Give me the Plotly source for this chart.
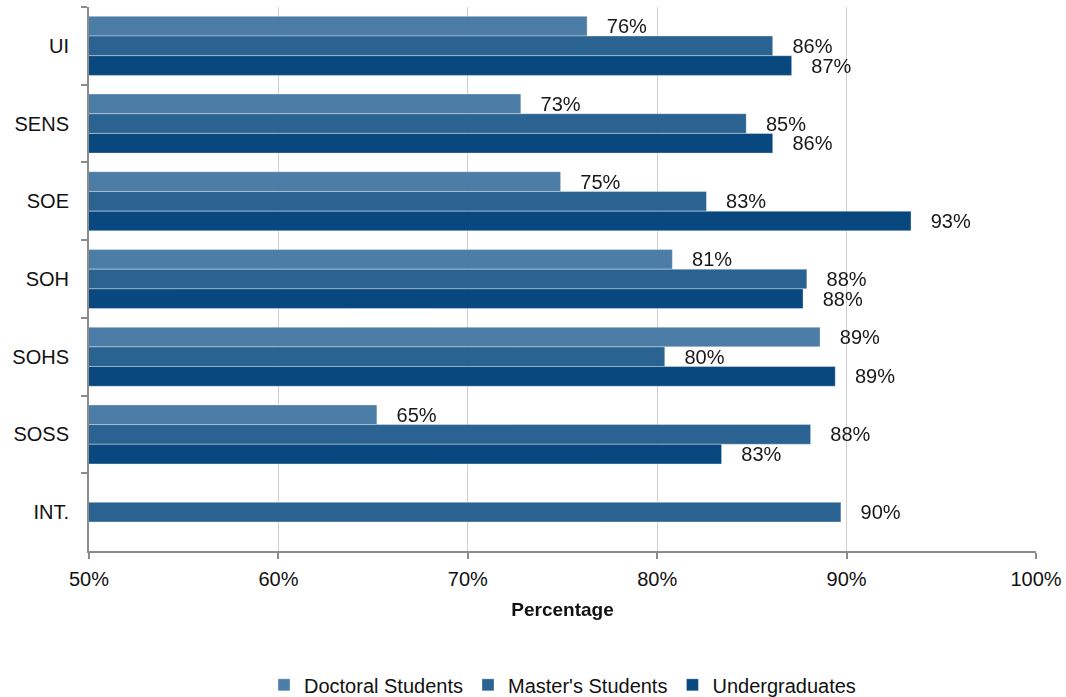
import plotly.graph_objects as go

categories = ["UI", "SENS", "SOE", "SOH", "SOHS", "SOSS", "INT."]
doctoral = [76.3, 72.8, 74.9, 80.8, 88.6, 65.2, None]
masters = [86.1, 84.7, 82.6, 87.9, 80.4, 88.1, 89.7]
undergrad = [87.1, 86.1, 93.4, 87.7, 89.4, 83.4, None]

series = [
    ("Doctoral Students", doctoral, "#4779a5"),
    ("Master's Students", masters, "#245e8e"),
    ("Undergraduates", undergrad, "#00437a"),
]

FONT = "Liberation Sans, Arial, sans-serif"

fig = go.Figure()
for name, vals, color in series:
    texts = ["\u00a0\u00a0\u00a0" + f"{round(v)}%" if v is not None else "" for v in vals]
    fig.add_trace(go.Bar(
        name=name, y=categories, x=vals, orientation="h",
        marker=dict(color=color, line=dict(color="rgba(255,255,255,0.35)", width=1)),
        opacity=0.97,
        text=texts, textposition="outside", textfont=dict(size=20, color="#111111", family=FONT),
        constraintext="none", cliponaxis=False,
    ))

fig.update_layout(
    width=1066, height=697,
    margin=dict(l=89, r=30, t=7, b=146, autoexpand=False),
    plot_bgcolor="white", paper_bgcolor="white",
    barmode="group", bargap=0.24, bargroupgap=0,
    font=dict(family=FONT, size=20, color="#111111"),
    showlegend=True,
    legend=dict(orientation="h", x=0.5, xanchor="center", y=-0.246, yanchor="middle",
                font=dict(size=20, family=FONT), traceorder="normal", itemwidth=30),
    xaxis=dict(
        range=[50, 100], dtick=10, ticksuffix="%",
        showgrid=True, gridcolor="#cfcfcf", gridwidth=1,
        showline=True, linecolor="#8c8c8c", linewidth=2,
        ticks="outside", ticklen=6, tickcolor="#8c8c8c", tickwidth=2,
        tickfont=dict(size=20), zeroline=False, ticklabelstandoff=3,
        title=dict(text="<b>Percentage</b>", font=dict(size=19), standoff=14),
    ),
    yaxis=dict(
        autorange="reversed", type="category",
        showline=True, linecolor="#8c8c8c", linewidth=2,
        ticks="outside", ticklen=6, tickcolor="#8c8c8c", tickwidth=2,
        tickson="boundaries", showgrid=False,
        tickfont=dict(size=20), ticklabelstandoff=14,
    ),
)

fig.write_html("out.html")
